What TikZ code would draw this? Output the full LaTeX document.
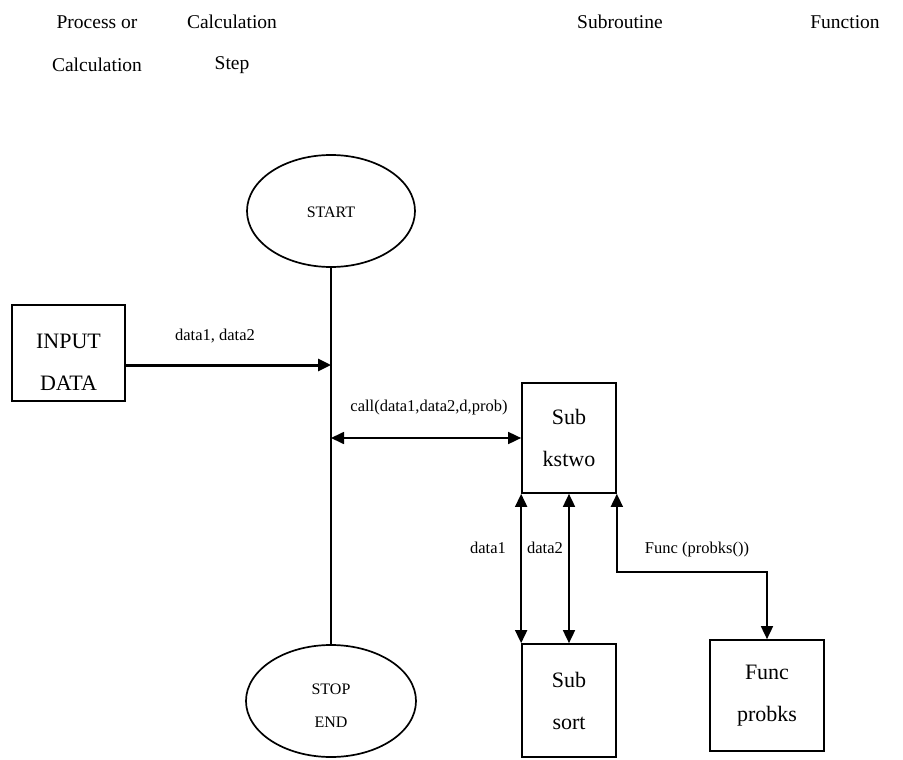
\documentclass[tikz,border=0pt]{standalone}
\usepackage{fontspec}
\setmainfont{Liberation Serif}
\usetikzlibrary{arrows.meta,shapes.geometric}
\tikzset{
  box/.style={draw, line width=1.7pt, rectangle, inner sep=0pt},
  oval/.style={draw, line width=1.7pt, ellipse, inner sep=0pt},
  boxtext/.style={font=\fontsize{22}{42}\selectfont, align=center},
  ovaltext/.style={font=\fontsize{16}{33}\selectfont, align=center},
  headtext/.style={font=\fontsize{19.5}{22}\selectfont},
  lbl/.style={font=\fontsize{16.5}{18}\selectfont},
  conn/.style={line width=1.7pt},
  dtip/.style={{Triangle[length=13pt,width=12pt]}-{Triangle[length=13pt,width=12pt]}}
}
\begin{document}
\begin{tikzpicture}[x=1pt,y=-1pt]
\useasboundingbox (0,0) rectangle (903,760);
% headings
\node[headtext] (h1) at (97,22) {Process or};
\node[headtext] (h2) at (97,65) {Calculation};
\node[headtext] (h3) at (232,22) {Calculation};
\node[headtext] (h4) at (232,65) {Step};
\node[headtext] (h5) at (620,22) {Subroutine};
\node[headtext] (h6) at (845,22) {Function};
% shapes
\node[oval, minimum width=168, minimum height=112] (start) at (331,211) {};
\node[ovaltext] (starttxt) at (331,212) {START};
\node[oval, minimum width=170, minimum height=112] (stop) at (331,701) {};
\node[ovaltext] (stoptxt) at (331,706) {STOP\\END};
\node[box, minimum width=113, minimum height=96] (input) at (68.5,353) {};
\node[boxtext] (inputtxt) at (68.5,362) {INPUT\\DATA};
\node[box, boxtext, minimum width=94, minimum height=110] (kstwo) at (569,438) {Sub\\kstwo};
\node[box, boxtext, minimum width=94, minimum height=113] (sort) at (569,700.5) {Sub\\sort};
\node[box, boxtext, minimum width=114, minimum height=111] (probks) at (767,695.5) {Func\\probks};
% connectors
\coordinate (j1) at (331,365);
\coordinate (j2) at (331,438);
\coordinate (fc) at (767,572);
\draw[conn] (start.south) -- (stop.north);
\draw[line width=3pt, -{Triangle[length=13pt,width=12pt]}] (input.east |- j1) -- (j1);
\draw[conn, dtip] (j2) -- (kstwo.west);
\draw[conn, dtip] (kstwo.south west) -- (sort.north west);
\draw[conn, dtip] (kstwo.south) -- (sort.north);
\draw[conn, dtip] (kstwo.south east) |- (fc) -- (probks.north);
% labels
\node[lbl] (l1) at (215,336) {data1, data2};
\node[lbl] (l2) at (429,408) {call(data1,data2,d,prob)};
\node[lbl] (l3) at (488,548) {data1};
\node[lbl] (l4) at (545,548) {data2};
\node[lbl] (l5) at (697,550) {Func (probks())};
\end{tikzpicture}
\end{document}
